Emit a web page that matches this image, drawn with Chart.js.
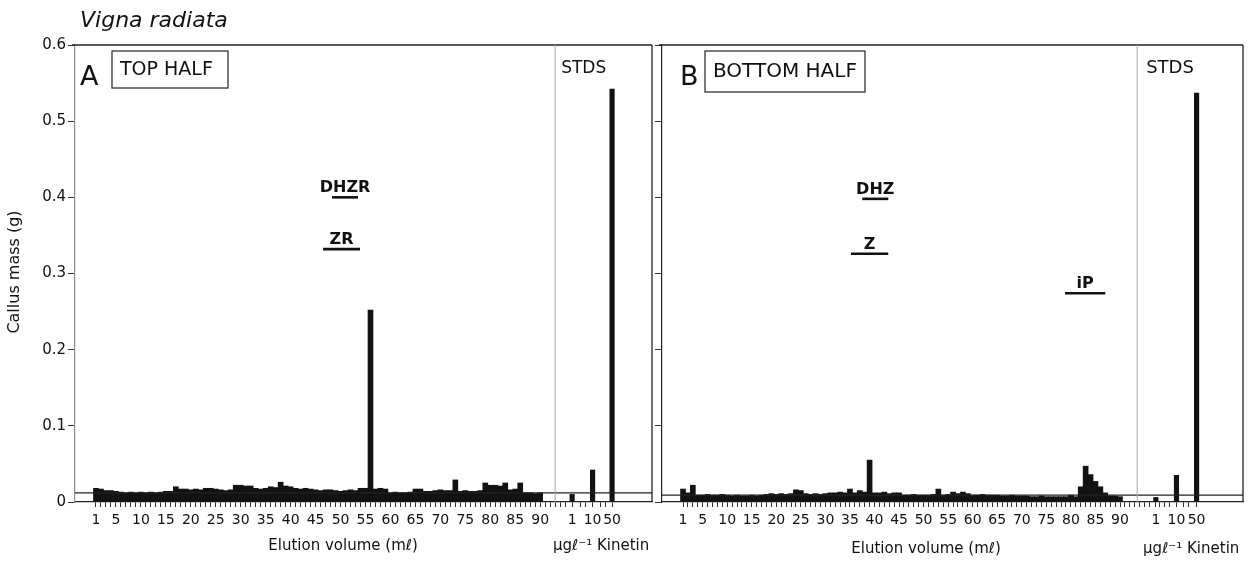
<!DOCTYPE html>
<html><head><meta charset="utf-8">
<script src="https://cdn.jsdelivr.net/npm/chart.js@4.4.1/dist/chart.umd.min.js"></script>
<style>
html,body{margin:0;padding:0;background:#fff;}
#wrap{position:relative;width:1255px;height:563px;overflow:hidden;background:#fff;}
canvas{position:absolute;top:0;}
</style></head><body>
<div id="wrap">
<canvas id="cA" width="655" height="563" style="left:0;width:655px;height:563px"></canvas>
<canvas id="cB" width="600" height="563" style="left:655px;width:600px;height:563px"></canvas>
</div>
<script>
// ---------------- data ----------------
const fractionLabelsEvery = 5;           // fractions 1..90, labelled 1,5,10,...,90
const topHalf = [
  0.018,0.017,0.015,0.015,0.014,0.013,0.012,0.013,0.012,0.013,
  0.012,0.013,0.012,0.013,0.014,0.014,0.020,0.017,0.017,0.016,
  0.017,0.016,0.018,0.018,0.017,0.016,0.015,0.016,0.022,0.022,
  0.021,0.021,0.018,0.017,0.018,0.020,0.019,0.026,0.021,0.020,
  0.018,0.017,0.018,0.017,0.016,0.015,0.016,0.016,0.015,0.014,
  0.015,0.016,0.015,0.018,0.018,0.252,0.017,0.018,0.017,0.012,
  0.013,0.012,0.012,0.013,0.017,0.017,0.014,0.014,0.015,0.016,
  0.015,0.015,0.029,0.014,0.015,0.014,0.014,0.015,0.025,0.022,
  0.022,0.021,0.025,0.016,0.017,0.025,0.012,0.012,0.011,0.012
];
const bottomHalf = [
  0.017,0.012,0.022,0.009,0.009,0.010,0.009,0.009,0.010,0.009,
  0.008,0.009,0.008,0.008,0.009,0.008,0.009,0.010,0.011,0.010,
  0.011,0.010,0.011,0.016,0.015,0.011,0.010,0.011,0.010,0.011,
  0.012,0.012,0.013,0.012,0.017,0.012,0.015,0.013,0.055,0.012,
  0.012,0.013,0.011,0.012,0.012,0.009,0.009,0.010,0.009,0.009,
  0.009,0.010,0.017,0.009,0.010,0.013,0.011,0.013,0.011,0.009,
  0.009,0.010,0.009,0.009,0.009,0.008,0.008,0.009,0.008,0.008,
  0.008,0.007,0.007,0.008,0.007,0.007,0.007,0.007,0.007,0.009,
  0.007,0.020,0.047,0.036,0.027,0.020,0.012,0.008,0.008,0.007
];
const stdLabels = ['1', '10', '50'];        // µg/l kinetin standards
const stdTopHalf = [0.010, 0.042, 0.542];
const stdBottomHalf = [0.006, 0.035, 0.537];
const controlTopHalf = 0.012;
const controlBottomHalf = 0.009;
const markerNamesA = ['DHZR', 'ZR'];
const markerFromA = [48.3, 46.5];
const markerToA = [53.5, 53.9];
const markerLevelA = [0.400, 0.332];
const markerNamesB = ['DHZ', 'Z', 'iP'];
const markerFromB = [37.5, 35.2, 78.8];
const markerToB = [42.8, 42.8, 87.0];
const markerLevelB = [0.398, 0.326, 0.274];
const yTickValues = [0, 0.1, 0.2, 0.3, 0.4, 0.5, 0.6];

// ---------------- drawing ----------------
const FONT = '"DejaVu Sans", "Liberation Sans", sans-serif';
const INK = '#121212';

function makePanel(id, p) {
  const fracData = p.values.map((v, i) => ({x: i + 1, y: v}));
  const stdData = p.stds.map((v, i) => ({x: p.stdPos[i], y: v}));
  const labelMap = new Map();
  for (let f = 1; f <= p.values.length; f++) {
    if (f === 1 || f % fractionLabelsEvery === 0) labelMap.set(f, String(f));
  }
  p.stdPos.forEach((x, i) => labelMap.set(x, stdLabels[i]));
  const tickVals = [];
  for (let f = 1; f <= p.minorEnd; f++) {
    if (!p.stdPos.some(s => Math.abs(s - f) < 0.6)) tickVals.push(f);
  }
  tickVals.push(...p.stdPos);
  tickVals.sort((a, b) => a - b);

  const datasets = [
    {type: 'bar', data: fracData, backgroundColor: INK, barThickness: p.barPx,
     grouped: false, borderWidth: 0, order: 3},
    {type: 'bar', data: stdData, backgroundColor: INK, barThickness: 4.5,
     grouped: false, borderWidth: 0, order: 3},
    {type: 'line', data: [{x: p.xMin, y: p.control}, {x: p.xMax, y: p.control}],
     borderColor: '#222', borderWidth: 1.2, pointRadius: 0, order: 1}
  ];
  p.mNames.forEach((n, i) => datasets.push({
    type: 'line', data: [{x: p.mFrom[i], y: p.mLevel[i]}, {x: p.mTo[i], y: p.mLevel[i]}],
    borderColor: '#111', borderWidth: 2.6, pointRadius: 0, borderCapStyle: 'butt', order: 0
  }));

  const decor = {
    id: 'decor',
    afterDraw(chart) {
      const ctx = chart.ctx, a = chart.chartArea, xs = chart.scales.x, ys = chart.scales.y;
      ctx.save();
      // frame
      ctx.strokeStyle = '#222'; ctx.lineWidth = 1.3;
      ctx.beginPath(); ctx.moveTo(a.left - 3, a.top); ctx.lineTo(a.right, a.top); ctx.stroke();
      ctx.beginPath(); ctx.moveTo(a.right, a.top); ctx.lineTo(a.right, a.bottom); ctx.stroke();
      const sx = xs.getPixelForValue(p.sep);
      ctx.strokeStyle = '#a8a8a8'; ctx.lineWidth = 1;
      ctx.beginPath(); ctx.moveTo(sx, a.top); ctx.lineTo(sx, a.bottom); ctx.stroke();
      // panel letter and box
      ctx.fillStyle = '#111'; ctx.textBaseline = 'alphabetic'; ctx.textAlign = 'left';
      ctx.font = '27px ' + FONT;
      ctx.fillText(p.letter, a.left + p.letterDx, a.top + 40);
      ctx.strokeStyle = '#222'; ctx.lineWidth = 1.2;
      ctx.strokeRect(a.left + p.boxX0, a.top + 6, p.boxX1 - p.boxX0, p.boxH);
      ctx.font = p.boxFont + 'px ' + FONT;
      ctx.fillText(p.boxText, a.left + p.boxX0 + 8, a.top + p.boxBase);
      // STDS
      ctx.font = p.stdsFont + 'px ' + FONT;
      ctx.fillText('STDS', sx + p.stdsDx, a.top + 28);
      // marker labels
      ctx.font = 'bold 16px ' + FONT; ctx.textAlign = 'center';
      p.mNames.forEach((n, i) => {
        const cx = xs.getPixelForValue((p.mFrom[i] + p.mTo[i]) / 2);
        ctx.fillText(n, cx, ys.getPixelForValue(p.mLevel[i]) - 5);
      });
      // axis titles
      ctx.font = '15px ' + FONT;
      ctx.fillText('Elution volume (m\u2113)', xs.getPixelForValue(50.5), p.titleBase);
      ctx.fillText('\u03bcg\u2113\u207b\u00b9 Kinetin', xs.getPixelForValue(p.kinCenter), p.titleBase);
      if (p.main) {
        ctx.textAlign = 'left';
        ctx.font = 'italic 22px ' + FONT;
        ctx.fillText('Vigna radiata', 80, 27);
        ctx.translate(15, 272); ctx.rotate(-Math.PI / 2);
        ctx.textAlign = 'center'; ctx.textBaseline = 'middle';
        ctx.font = '16px ' + FONT;
        ctx.fillText('Callus mass (g)', 0, 0);
      }
      ctx.restore();
    }
  };

  new Chart(document.getElementById(id), {
    type: 'bar',
    data: {datasets},
    plugins: [decor],
    options: {
      responsive: false, animation: false, devicePixelRatio: 1,
      layout: {padding: {top: 45, right: p.padRight, left: 0, bottom: 0}},
      plugins: {legend: {display: false}, tooltip: {enabled: false}},
      scales: {
        x: {
          type: 'linear', min: p.xMin, max: p.xMax, offset: false,
          afterBuildTicks: s => { s.ticks = tickVals.map(v => ({value: v})); },
          afterFit: s => { s.height = 61; },
          grid: {drawOnChartArea: false, drawTicks: true, tickLength: 5, color: '#333', offset: false},
          border: {display: true, color: '#222', width: 1.3},
          ticks: {autoSkip: false, maxRotation: 0, minRotation: 0, padding: 5, color: '#111',
                  font: {family: FONT, size: 14},
                  callback: v => labelMap.has(v) ? labelMap.get(v) : ''}
        },
        y: {
          min: 0, max: 0.6,
          afterBuildTicks: s => { s.ticks = yTickValues.map(v => ({value: v})); },
          afterFit: s => { s.width = p.yWidth; },
          grid: {drawOnChartArea: false, tickLength: 7, color: '#333'},
          border: {display: true, color: p.yBorder, width: 1.2},
          ticks: {padding: 2, color: '#111', font: {family: FONT, size: 15},
                  callback: v => p.main ? (v === 0 ? '0' : Number(v).toFixed(1)) : ''}
        }
      }
    }
  });
}

makePanel('cA', {
  main: true, values: topHalf, stds: stdTopHalf, control: controlTopHalf,
  mNames: markerNamesA, mFrom: markerFromA, mTo: markerToA, mLevel: markerLevelA,
  xMin: -3.2, xMax: 112.4, sep: 93, stdPos: [96.4, 100.5, 104.4], minorEnd: 104,
  barPx: 5, yWidth: 75, padRight: 3, yBorder: '#8c8c8c',
  letter: 'A', letterDx: 5, boxText: 'TOP HALF', boxX0: 37, boxX1: 153, boxH: 37, boxFont: 19, boxBase: 30,
  stdsFont: 17, stdsDx: 6,
  kinCenter: 102.2, titleBase: 550
});
makePanel('cB', {
  main: false, values: bottomHalf, stds: stdBottomHalf, control: controlBottomHalf,
  mNames: markerNamesB, mFrom: markerFromB, mTo: markerToB, mLevel: markerLevelB,
  xMin: -3.28, xMax: 115.05, sep: 93.5, stdPos: [97.3, 101.5, 105.6], minorEnd: 105,
  barPx: 5, yWidth: 7, padRight: 12, yBorder: '#222',
  letter: 'B', letterDx: 18, boxText: 'BOTTOM HALF', boxX0: 43, boxX1: 203, boxH: 41, boxFont: 20, boxBase: 32,
  stdsFont: 18, stdsDx: 9,
  kinCenter: 104.5, titleBase: 553
});
</script>
</body></html>
